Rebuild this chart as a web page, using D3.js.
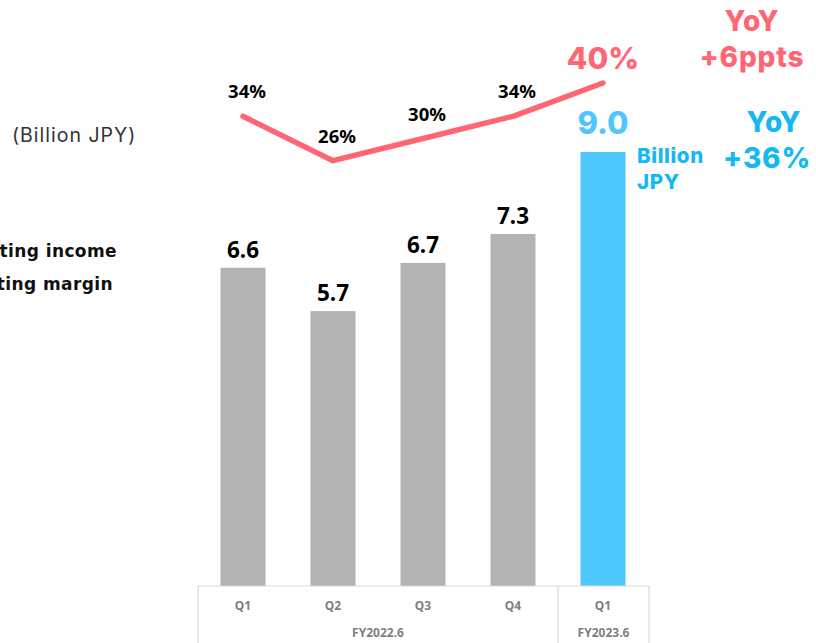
<!DOCTYPE html>
<html>
<head>
<meta charset="utf-8">
<script src="https://cdn.jsdelivr.net/npm/d3@7"></script>
<style>
  html, body { margin: 0; padding: 0; background: #fff; }
  svg { display: block; }
</style>
</head>
<body>
<svg id="chart" width="816" height="643"></svg>
<script>
// Quarterly operating income (billion JPY) and operating margin (%)
const quarters = ["Q1", "Q2", "Q3", "Q4", "Q1"];
const fiscalYears = ["FY2022.6", "FY2023.6"];
const quarterYear = [0, 0, 0, 0, 1];
const operatingIncome = [6.6, 5.7, 6.7, 7.3, 9.0];
const operatingMargin = [34, 26, 30, 34, 40];
const incomeLabels = ["6.6", "5.7", "6.7", "7.3", "9.0"];
const marginLabels = ["34%", "26%", "30%", "34%", "40%"];

const RED = "#ff6673";
const BAR_GREY = "#b3b3b3";
const BAR_BLUE = "#4dc8ff";
const TEXT_BLUE = "#14b8f2";

const svg = d3.select("#chart");
const labelFont = "'Noto Sans', 'Open Sans', sans-serif";
const headFont = "Inter, 'Open Sans', sans-serif";
const legendFont = "'DejaVu Sans', sans-serif";

// Scales
const x = d3.scaleBand()
  .domain(d3.range(quarters.length))
  .range([198, 648])
  .paddingInner(0.5)
  .paddingOuter(0.25);

const y = d3.scaleLinear().domain([0, 9]).range([586, 152]);
const yMargin = d3.scaleLinear().domain([26, 40]).range([160.7, 83]);

// Bars
svg.append("g").selectAll("rect")
  .data(operatingIncome)
  .join("rect")
  .attr("x", (d, i) => x(i))
  .attr("y", d => y(d))
  .attr("width", x.bandwidth())
  .attr("height", d => y(0) - y(d))
  .attr("fill", (d, i) => quarterYear[i] === 1 ? BAR_BLUE : BAR_GREY);

// Bar value labels
svg.append("g").selectAll("text")
  .data(operatingIncome)
  .join("text")
  .attr("x", (d, i) => x(i) + x.bandwidth() / 2)
  .attr("y", (d, i) => y(d) - (quarterYear[i] === 1 ? 18 : 10))
  .attr("text-anchor", "middle")
  .attr("font-family", (d, i) => quarterYear[i] === 1 ? headFont : labelFont)
  .attr("font-weight", (d, i) => quarterYear[i] === 1 ? 800 : 700)
  .attr("font-size", (d, i) => quarterYear[i] === 1 ? 31 : 22.5)
  .attr("fill", (d, i) => quarterYear[i] === 1 ? BAR_BLUE : "#000")
  .text((d, i) => incomeLabels[i]);

// Margin line
const line = d3.line()
  .x((d, i) => x(i) + x.bandwidth() / 2)
  .y(d => yMargin(d));

svg.append("path")
  .datum(operatingMargin)
  .attr("d", line)
  .attr("fill", "none")
  .attr("stroke", RED)
  .attr("stroke-width", 5.5)
  .attr("stroke-linecap", "round")
  .attr("stroke-linejoin", "round");

// Margin labels
svg.append("g").selectAll("text")
  .data(operatingMargin)
  .join("text")
  .attr("x", (d, i) => x(i) + x.bandwidth() / 2 + (i === 4 ? 0 : 4))
  .attr("y", (d, i) => yMargin(d) - (i === 4 ? 14 : 18))
  .attr("text-anchor", "middle")
  .attr("font-family", (d, i) => i === 4 ? headFont : labelFont)
  .attr("font-weight", (d, i) => i === 4 ? 800 : 700)
  .attr("font-size", (d, i) => i === 4 ? 30 : 18.5)
  .attr("fill", (d, i) => i === 4 ? RED : "#000")
  .text((d, i) => marginLabels[i]);

// Category axis table
const axisG = svg.append("g");
const boxTop = 586, boxBottom = 660;
const left = 198, right = 649;
const sep = (x(3) + x.bandwidth() + x(4)) / 2;
axisG.append("path")
  .attr("d", `M${left},${boxBottom}V${boxTop}H${right}V${boxBottom}M${sep},${boxTop}V${boxBottom}`)
  .attr("fill", "none")
  .attr("stroke", "#d9d9d9")
  .attr("stroke-width", 1.2);

axisG.selectAll("text.q")
  .data(quarters)
  .join("text")
  .attr("class", "q")
  .attr("x", (d, i) => x(i) + x.bandwidth() / 2)
  .attr("y", 610)
  .attr("text-anchor", "middle")
  .attr("font-family", labelFont)
  .attr("font-weight", 700)
  .attr("font-size", 12)
  .attr("fill", "#7f7f7f")
  .text(d => d);

const yearCenters = [(left + sep) / 2, (sep + right) / 2];
axisG.selectAll("text.fy")
  .data(fiscalYears)
  .join("text")
  .attr("class", "fy")
  .attr("x", (d, i) => yearCenters[i])
  .attr("y", 637)
  .attr("text-anchor", "middle")
  .attr("font-family", labelFont)
  .attr("font-weight", 700)
  .attr("font-size", 12)
  .attr("fill", "#7f7f7f")
  .text(d => d);

// Unit and legend text
svg.append("text")
  .attr("x", 12).attr("y", 142)
  .attr("font-family", headFont)
  .attr("font-size", 19.5)
  .attr("letter-spacing", 1)
  .attr("fill", "#333")
  .text("(Billion JPY)");

svg.append("text")
  .attr("x", 117).attr("y", 257)
  .attr("text-anchor", "end")
  .attr("font-family", legendFont)
  .attr("font-weight", 700)
  .attr("font-size", 17)
  .attr("letter-spacing", 0.4)
  .attr("fill", "#111")
  .text("Operating income");

svg.append("text")
  .attr("x", 113).attr("y", 290)
  .attr("text-anchor", "end")
  .attr("font-family", legendFont)
  .attr("font-weight", 700)
  .attr("font-size", 17)
  .attr("letter-spacing", 0.4)
  .attr("fill", "#111")
  .text("Operating margin");

// Unit next to the latest bar
const unitG = svg.append("text")
  .attr("font-family", headFont)
  .attr("font-weight", 800)
  .attr("font-size", 20.5)
  .attr("letter-spacing", 0.6)
  .attr("fill", TEXT_BLUE);
unitG.append("tspan").attr("x", 637).attr("y", 163).text("Billion");
unitG.append("tspan").attr("x", 637).attr("y", 189).text("JPY");

// Year-over-year callouts
const yoyRed = svg.append("text")
  .attr("text-anchor", "middle")
  .attr("font-family", headFont)
  .attr("font-weight", 800)
  .attr("font-size", 28)
  .attr("letter-spacing", 0.8)
  .attr("fill", RED);
yoyRed.append("tspan").attr("x", 752).attr("y", 31).text("YoY");
yoyRed.append("tspan").attr("x", 752).attr("y", 67).text("+6ppts");

const yoyBlue = svg.append("text")
  .attr("text-anchor", "middle")
  .attr("font-family", headFont)
  .attr("font-weight", 800)
  .attr("font-size", 28)
  .attr("letter-spacing", 0.8)
  .attr("fill", TEXT_BLUE);
yoyBlue.append("tspan").attr("x", 774).attr("y", 132).text("YoY");
yoyBlue.append("tspan").attr("x", 767).attr("y", 168).text("+36%");
</script>
</body>
</html>
